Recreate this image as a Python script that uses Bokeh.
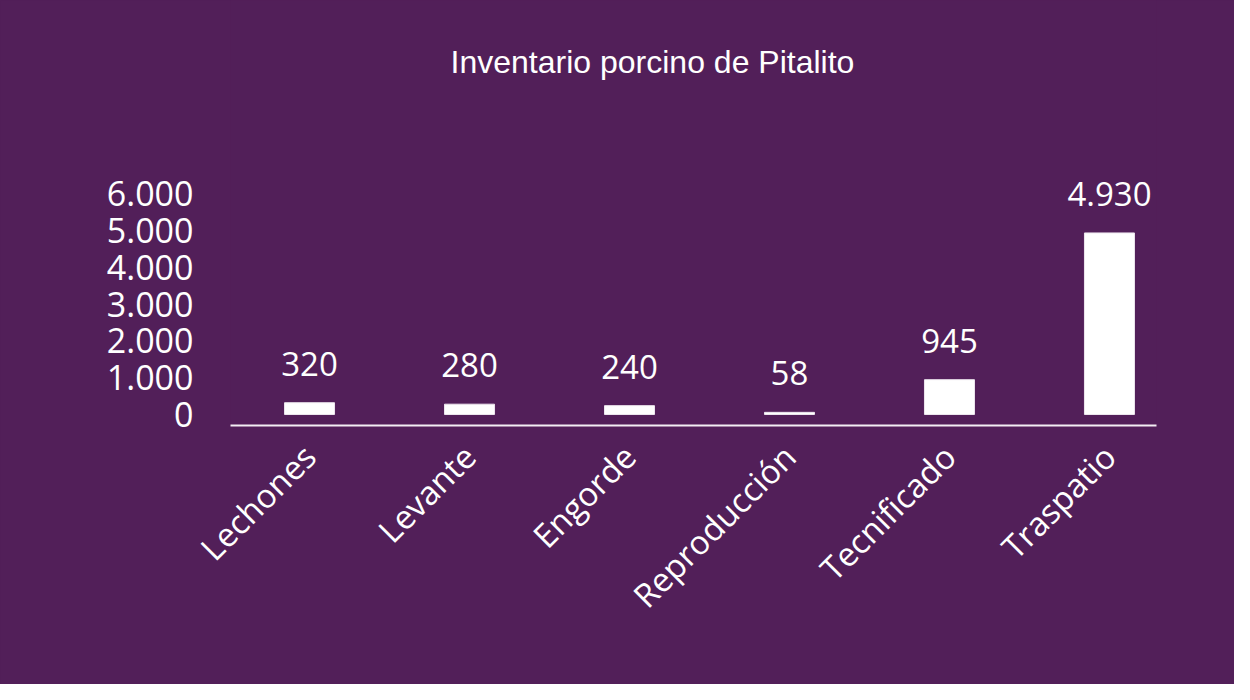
from bokeh.plotting import figure
from bokeh.models import ColumnDataSource, FixedTicker, Label
from bokeh.core.properties import value
from bokeh.embed import file_html
from bokeh.resources import INLINE
import math

categories = ["Lechones", "Levante", "Engorde", "Reproducción", "Tecnificado", "Traspatio"]
counts = [320, 280, 240, 58, 945, 4930]
y_ticks = [0, 1000, 2000, 3000, 4000, 5000, 6000]
y_tick_labels = ["0", "1.000", "2.000", "3.000", "4.000", "5.000", "6.000"]
title_text = "Inventario porcino de Pitalito"

BG = "#521F59"
FG = "#FFFFFF"

xs = list(range(len(categories)))
src = ColumnDataSource(dict(
    x=xs,
    top=counts,
    label=[f"{v:,}".replace(",", ".") for v in counts],
))

p = figure(width=1234, height=684, output_backend="svg", toolbar_location=None,
           x_range=(-0.494, 5.294), y_range=(-299, 11242),
           min_border_left=230, min_border_right=78, min_border_top=0,
           min_border_bottom=259)
p.styles = {"background-color": BG}
p.title.visible = False
p.background_fill_color = BG
p.border_fill_color = BG
p.outline_line_color = None
p.grid.visible = False

p.vbar(x="x", top="top", bottom=0, width=0.3125, source=src,
       fill_color=FG, line_color="#EDE6EE", line_width=1)

p.text(x="x", y="top", text="label", source=src, text_color=FG,
       text_font=value("Open Sans"), text_font_size="33px",
       text_align="center", text_baseline="alphabetic", y_offset=-39)

# x axis
xa = p.xaxis[0]
xa.ticker = FixedTicker(ticks=xs)
xa.major_label_overrides = {i: c for i, c in zip(xs, categories)}
xa.major_label_orientation = math.pi / 4
xa.major_label_text_font = "Open Sans"
xa.major_label_text_font_size = "33px"
xa.major_label_text_color = FG
xa.major_tick_line_color = None
xa.minor_tick_line_color = None
xa.major_tick_out = 0
xa.major_label_standoff = 25
xa.axis_line_color = "#F3EEF4"
xa.axis_line_width = 2

# y axis
ya = p.yaxis[0]
ya.ticker = FixedTicker(ticks=y_ticks)
ya.major_label_overrides = {t: l for t, l in zip(y_ticks, y_tick_labels)}
ya.major_label_text_font = "Open Sans"
ya.major_label_text_font_size = "34px"
ya.major_label_text_color = FG
ya.axis_line_color = None
ya.major_tick_line_color = None
ya.minor_tick_line_color = None
ya.major_tick_out = 0
ya.major_label_standoff = 37

# chart title, placed in the empty upper part of the plot area
p.add_layout(Label(x=2.1435, y=9559, text=title_text, text_font="Liberation Sans",
                   text_font_size="32px", text_color=FG,
                   text_align="center", text_baseline="middle"))

open("out.html", "w").write(file_html(p, INLINE))
